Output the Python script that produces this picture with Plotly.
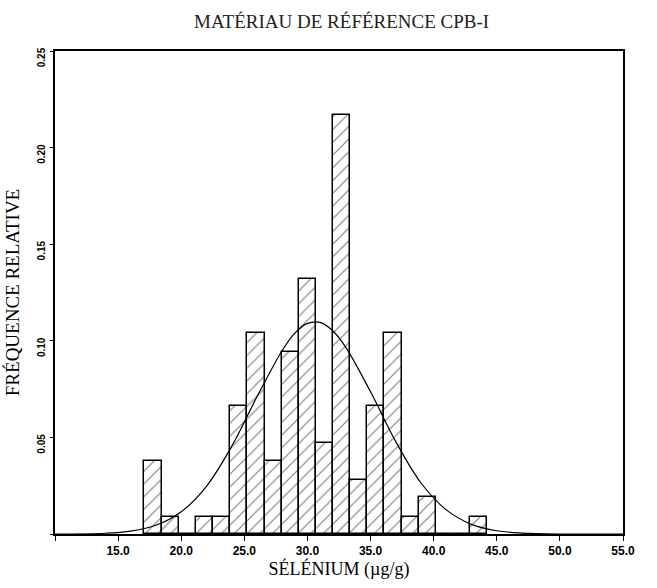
import plotly.graph_objects as go

# ---- data ----
bin_edges = [17.09, 18.45, 19.81, 21.16, 22.52, 23.88, 25.24, 26.60, 27.95, 29.31,
             30.67, 32.03, 33.39, 34.74, 36.10, 37.46, 38.82, 40.17, 41.53, 42.89, 44.25]
rel_freq = [0.038, 0.009, 0.0, 0.009, 0.009, 0.066, 0.104, 0.038, 0.094, 0.132,
            0.047, 0.217, 0.028, 0.066, 0.104, 0.009, 0.019, 0.0, 0.0, 0.009]

curve_x = [10, 14, 16, 18, 20, 22, 24, 26, 28, 29, 30, 31, 32, 33, 35, 37, 39, 41, 43, 45, 47, 50, 55]
curve_y = [0.0, 0.0004, 0.0015, 0.0045, 0.0115, 0.0247, 0.0454, 0.0710, 0.0950, 0.1040,
           0.1090, 0.1095, 0.1052, 0.0970, 0.0736, 0.0478, 0.0264, 0.0125, 0.0050, 0.0017,
           0.0005, 0.0, 0.0]

x_tickvals = [10, 15, 20, 25, 30, 35, 40, 45, 50, 55]
x_ticktext = ["", "15.0", "20.0", "25.0", "30.0", "35.0", "40.0", "45.0", "50.0", "55.0"]
y_tickvals = [0, 0.05, 0.10, 0.15, 0.20, 0.25]
y_ticktext = ["", "0.05", "0.10", "0.15", "0.20", "0.25"]

title_text = "MATÉRIAU DE RÉFÉRENCE CPB-I"
x_title = "SÉLÉNIUM (µg/g)"
y_title = "FRÉQUENCE RELATIVE"

# ---- figure ----
centers = [(a + b) / 2 for a, b in zip(bin_edges[:-1], bin_edges[1:])]
widths = [b - a for a, b in zip(bin_edges[:-1], bin_edges[1:])]

fig = go.Figure()
fig.add_trace(go.Bar(
    x=centers, y=rel_freq, width=widths,
    marker=dict(
        color="white",
        line=dict(color="black", width=1.5),
        pattern=dict(shape="/", fgcolor="black", bgcolor="white", size=9, solidity=0.13),
    ),
    showlegend=False,
))
fig.add_trace(go.Scatter(
    x=curve_x, y=curve_y, mode="lines",
    line=dict(color="black", width=1.2, shape="spline", smoothing=1.0),
    showlegend=False,
))

serif = "Liberation Serif, Times New Roman, serif"
sans = "Liberation Sans, Arial, sans-serif"

fig.update_layout(
    width=657, height=588,
    margin=dict(l=53, r=34, t=51, b=51),
    paper_bgcolor="white", plot_bgcolor="white",
    bargap=0,
    title=dict(text=title_text, x=0.52, xref="container", y=1 - 21 / 588, yref="container",
               xanchor="center", yanchor="middle",
               font=dict(family=serif, size=19, color="#222")),
)
fig.update_xaxes(
    range=[10, 55], tickvals=x_tickvals, ticktext=x_ticktext,
    showgrid=False, zeroline=False,
    showline=True, linecolor="black", linewidth=1.5, mirror=True,
    ticks="outside", ticklen=5, tickwidth=1, tickcolor="black",
    tickfont=dict(family=sans, size=12, color="black", weight="bold"),
    title=dict(text=x_title, standoff=5, font=dict(family=serif, size=18, color="black")),
)
fig.update_yaxes(
    range=[0, 0.25], tickvals=y_tickvals, ticktext=y_ticktext,
    showgrid=False, zeroline=False,
    showline=True, linecolor="black", linewidth=2, mirror=True,
    ticks="outside", ticklen=3, tickwidth=1, tickcolor="black",
    tickangle=-90, ticklabelshift=8, ticklabelstandoff=1,
    tickfont=dict(family=sans, size=10, color="black", weight="bold"),
    title=dict(text=y_title, standoff=11, font=dict(family=serif, size=19, color="black")),
)

fig.write_html("out.html")
